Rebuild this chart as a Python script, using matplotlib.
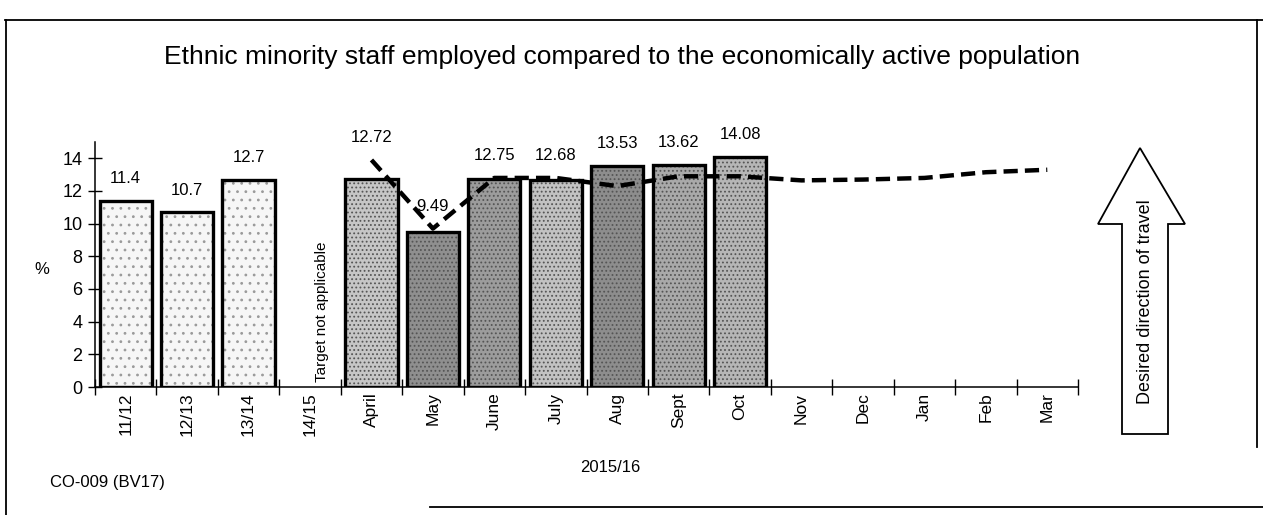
import numpy as np
import matplotlib
matplotlib.use("Agg")
import matplotlib.pyplot as plt
from matplotlib.patches import Polygon
from matplotlib.lines import Line2D

plt.rcParams['font.family'] = ['Liberation Sans', 'DejaVu Sans']
plt.rcParams['hatch.linewidth'] = 0.8

categories = ['11/12', '12/13', '13/14', '14/15', 'April', 'May', 'June', 'July',
              'Aug', 'Sept', 'Oct', 'Nov', 'Dec', 'Jan', 'Feb', 'Mar']
actual = [11.4, 10.7, 12.7, np.nan, 12.72, 9.49, 12.75, 12.68,
          13.53, 13.62, 14.08, np.nan, np.nan, np.nan, np.nan, np.nan]
target = [np.nan, np.nan, np.nan, np.nan, 13.9, 9.7, 12.8, 12.8,
          12.3, 12.9, 12.9, 12.65, 12.7, 12.8, 13.15, 13.3]
bar_fill = ['#f6f6f6', '#f6f6f6', '#f6f6f6', '#ffffff', '#c6c6c6', '#8f8f8f',
            '#9c9c9c', '#c2c2c2', '#8d8d8d', '#a9a9a9', '#b6b6b6',
            '#ffffff', '#ffffff', '#ffffff', '#ffffff', '#ffffff']
y_ticks = [0, 2, 4, 6, 8, 10, 12, 14]

W, H = 1263, 515
fig = plt.figure(figsize=(W / 100, H / 100), dpi=100)
ax = fig.add_axes([95 / W, 1 - 387 / H, 983 / W, 245 / H])

x = np.arange(len(categories))
vals = np.array(actual, dtype=float)
tgt = np.array(target, dtype=float)
has = ~np.isnan(vals)
old = has & (x < 4)
new = has & (x >= 4)

# textured fill, then a heavy black outline on top
ax.bar(x[old], vals[old], width=0.85, color=np.array(bar_fill)[old],
       edgecolor='#9a9a9a', linewidth=0, hatch='..', zorder=2)
ax.bar(x[new], vals[new], width=0.85, color=np.array(bar_fill)[new],
       edgecolor='#555555', linewidth=0, hatch='....', zorder=2)
ax.bar(x[has], vals[has], width=0.85, fill=False, edgecolor='black',
       linewidth=2.4, zorder=3)

# target line
ax.plot(x, tgt, color='black', linestyle=(0, (3.2, 1.6)), linewidth=3.2,
        zorder=4, solid_capstyle='butt')

# value labels
for xi, v, t in zip(x, vals, tgt):
    if np.isnan(v):
        continue
    top = v if np.isnan(t) else max(v, t)
    ax.annotate(f'{v:g}' if xi < 4 else f'{v:.2f}', (xi, top),
                xytext=(0, 16), textcoords='offset points',
                ha='center', va='center', fontsize=12)

ax.text(3.2, 0.3, 'Target not applicable', rotation=90, ha='center',
        va='bottom', fontsize=11)

ax.set_xlim(-0.5, len(categories) - 0.5)
ax.set_ylim(0, 15)
ax.set_yticks(y_ticks)
ax.tick_params(axis='y', direction='inout', length=10, width=1, labelsize=13, pad=4)
ax.set_xticks(x)
ax.set_xticklabels(categories, rotation=90, fontsize=12.5)
ax.set_xticks(np.arange(-0.5, len(categories), 1.0), minor=True)
ax.tick_params(axis='x', which='major', length=0, pad=4)
ax.tick_params(axis='x', which='minor', direction='inout', length=11, width=1)
for s in ['top', 'right']:
    ax.spines[s].set_visible(False)
for s in ['left', 'bottom']:
    ax.spines[s].set_linewidth(1.1)

# figure texts
fig.text(622 / W, 1 - 57 / H,
         'Ethnic minority staff employed compared to the economically active population',
         ha='center', va='center', fontsize=19)
fig.text(42 / W, 1 - 270 / H, '%', ha='center', va='center', fontsize=12)
fig.text(50 / W, 1 - 483 / H, 'CO-009 (BV17)', ha='left', va='center', fontsize=12)
fig.text(610 / W, 1 - 468 / H, '2015/16', ha='center', va='center', fontsize=12)

# direction arrow
arrow_px = [(1140, 148), (1185, 224), (1168, 224), (1168, 434),
            (1122, 434), (1122, 224), (1098, 224)]
fig.patches.append(Polygon([(px / W, 1 - py / H) for px, py in arrow_px],
                           closed=True, fill=False, edgecolor='black',
                           linewidth=1.3, transform=fig.transFigure))
fig.text(1145 / W, 1 - 302 / H, 'Desired direction of travel', rotation=90,
         ha='center', va='center', fontsize=13)

# frame around the panel
frame = [((5, 20), (1263, 20)), ((6, 20), (6, 515)),
         ((1257, 20), (1257, 447)), ((430, 507), (1263, 507))]
for (x0, y0), (x1, y1) in frame:
    fig.lines.append(Line2D([x0 / W, x1 / W], [1 - y0 / H, 1 - y1 / H],
                            transform=fig.transFigure, color='black',
                            linewidth=1.3))

fig.savefig('out.png', dpi=100, facecolor='white')
